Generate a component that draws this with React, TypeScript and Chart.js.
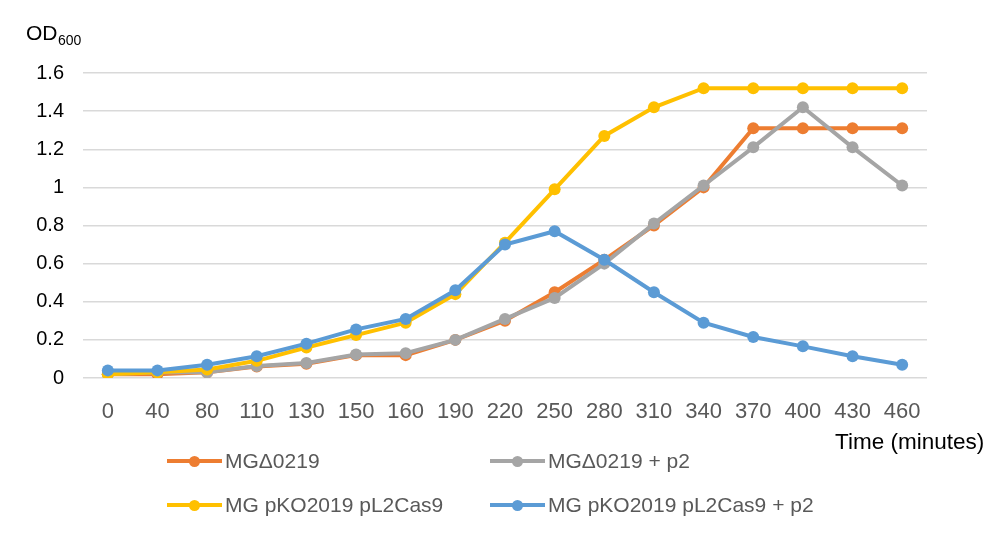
import React, { useEffect, useRef } from "react";
import { Chart, registerables } from "chart.js";

Chart.register(...registerables);

const timeLabels = ["0", "40", "80", "110", "130", "150", "160", "190", "220", "250", "280", "310", "340", "370", "400", "430", "460"];

const mgDelta = [0.02, 0.02, 0.03, 0.06, 0.075, 0.12, 0.12, 0.2, 0.3, 0.45, 0.62, 0.8, 1.0, 1.31, 1.31, 1.31, 1.31];
const mgDeltaP2 = [0.02, 0.03, 0.03, 0.063, 0.079, 0.123, 0.13, 0.2, 0.31, 0.42, 0.6, 0.81, 1.01, 1.21, 1.42, 1.21, 1.01];
const mgCas9 = [0.02, 0.03, 0.045, 0.09, 0.16, 0.225, 0.29, 0.44, 0.71, 0.99, 1.27, 1.42, 1.52, 1.52, 1.52, 1.52, 1.52];
const mgCas9P2 = [0.04, 0.04, 0.07, 0.114, 0.18, 0.255, 0.31, 0.46, 0.7, 0.77, 0.62, 0.45, 0.29, 0.215, 0.166, 0.114, 0.07];

const seriesNames = ["MGΔ0219", "MGΔ0219 + p2", "MG pKO2019 pL2Cas9", "MG pKO2019 pL2Cas9 + p2"];
const seriesColors = ["#ED7D31", "#A5A5A5", "#FFC000", "#5B9BD5"];
const seriesData = [mgDelta, mgDeltaP2, mgCas9, mgCas9P2];
const drawOrder = [3, 2, 1, 0];

const yTicks = [0, 0.2, 0.4, 0.6, 0.8, 1, 1.2, 1.4, 1.6];

const FONT = "'Liberation Sans', Arial, sans-serif";

const legendPos = [
  { lineLeft: 167, textLeft: 225, y: 461 },
  { lineLeft: 490, textLeft: 548, y: 461 },
  { lineLeft: 167, textLeft: 225, y: 505 },
  { lineLeft: 490, textLeft: 548, y: 505 },
];

export default function App() {
  const canvasRef = useRef<HTMLCanvasElement | null>(null);

  useEffect(() => {
    const canvas = canvasRef.current;
    if (!canvas) return;
    const chart = new Chart(canvas, {
      type: "line",
      data: {
        labels: timeLabels,
        datasets: seriesData.map((d, i) => ({
          label: seriesNames[i],
          data: d,
          borderColor: seriesColors[i],
          backgroundColor: seriesColors[i],
          borderWidth: 4,
          pointRadius: 6,
          pointBorderWidth: 0,
          pointBackgroundColor: seriesColors[i],
          tension: 0,
          order: drawOrder[i],
        })),
      },
      options: {
        animation: false,
        responsive: false,
        maintainAspectRatio: false,
        layout: { padding: { top: 73, right: 81, left: 0, bottom: 0 } },
        plugins: {
          legend: { display: false },
          tooltip: { enabled: false },
          title: { display: false },
        },
        scales: {
          x: {
            type: "category",
            offset: true,
            grid: { display: false, drawTicks: false },
            border: { display: false },
            ticks: {
              padding: 21,
              color: "#595959",
              font: { family: FONT, size: 22 },
              maxRotation: 0,
              autoSkip: false,
            },
            afterFit: (scale: any) => {
              scale.height = 167;
            },
          },
          y: {
            min: 0,
            max: 1.6,
            afterBuildTicks: (scale: any) => {
              scale.ticks = yTicks.map((v) => ({ value: v }));
            },
            grid: { color: "#D9D9D9", lineWidth: 1.5, drawTicks: false },
            border: { display: false },
            ticks: {
              padding: 19,
              color: "#000000",
              font: { family: FONT, size: 20 },
              callback: (v: any) => String(Math.round(Number(v) * 10) / 10),
            },
            afterFit: (scale: any) => {
              scale.width = 83;
            },
          },
        },
      },
    });
    return () => chart.destroy();
  }, []);

  return (
    <div style={{ position: "fixed", left: 0, top: 0, width: 1008, height: 545, background: "#fff", overflow: "hidden", fontFamily: FONT }}>
      <canvas ref={canvasRef} width={1008} height={545} style={{ position: "absolute", left: 0, top: 0, width: 1008, height: 545 }} />
      <div style={{ position: "absolute", left: 26, top: 22, fontSize: 21, lineHeight: "22px", color: "#000", whiteSpace: "nowrap" }}>OD</div>
      <div style={{ position: "absolute", left: 58, top: 33, fontSize: 14, lineHeight: "14px", color: "#000", whiteSpace: "nowrap" }}>600</div>
      <div style={{ position: "absolute", left: 835, top: 431, fontSize: 22.5, lineHeight: "22px", color: "#000", whiteSpace: "nowrap" }}>Time (minutes)</div>
      {seriesNames.map((name, i) => (
        <React.Fragment key={name}>
          <div style={{ position: "absolute", left: legendPos[i].lineLeft, top: legendPos[i].y - 2, width: 55, height: 4, background: seriesColors[i] }} />
          <div style={{ position: "absolute", left: legendPos[i].lineLeft + 27.5 - 5.5, top: legendPos[i].y - 5.5, width: 11, height: 11, borderRadius: "50%", background: seriesColors[i] }} />
          <div style={{ position: "absolute", left: legendPos[i].textLeft, top: legendPos[i].y - 12, height: 24, lineHeight: "24px", fontSize: 21, color: "#595959", whiteSpace: "nowrap" }}>{name}</div>
        </React.Fragment>
      ))}
    </div>
  );
}
